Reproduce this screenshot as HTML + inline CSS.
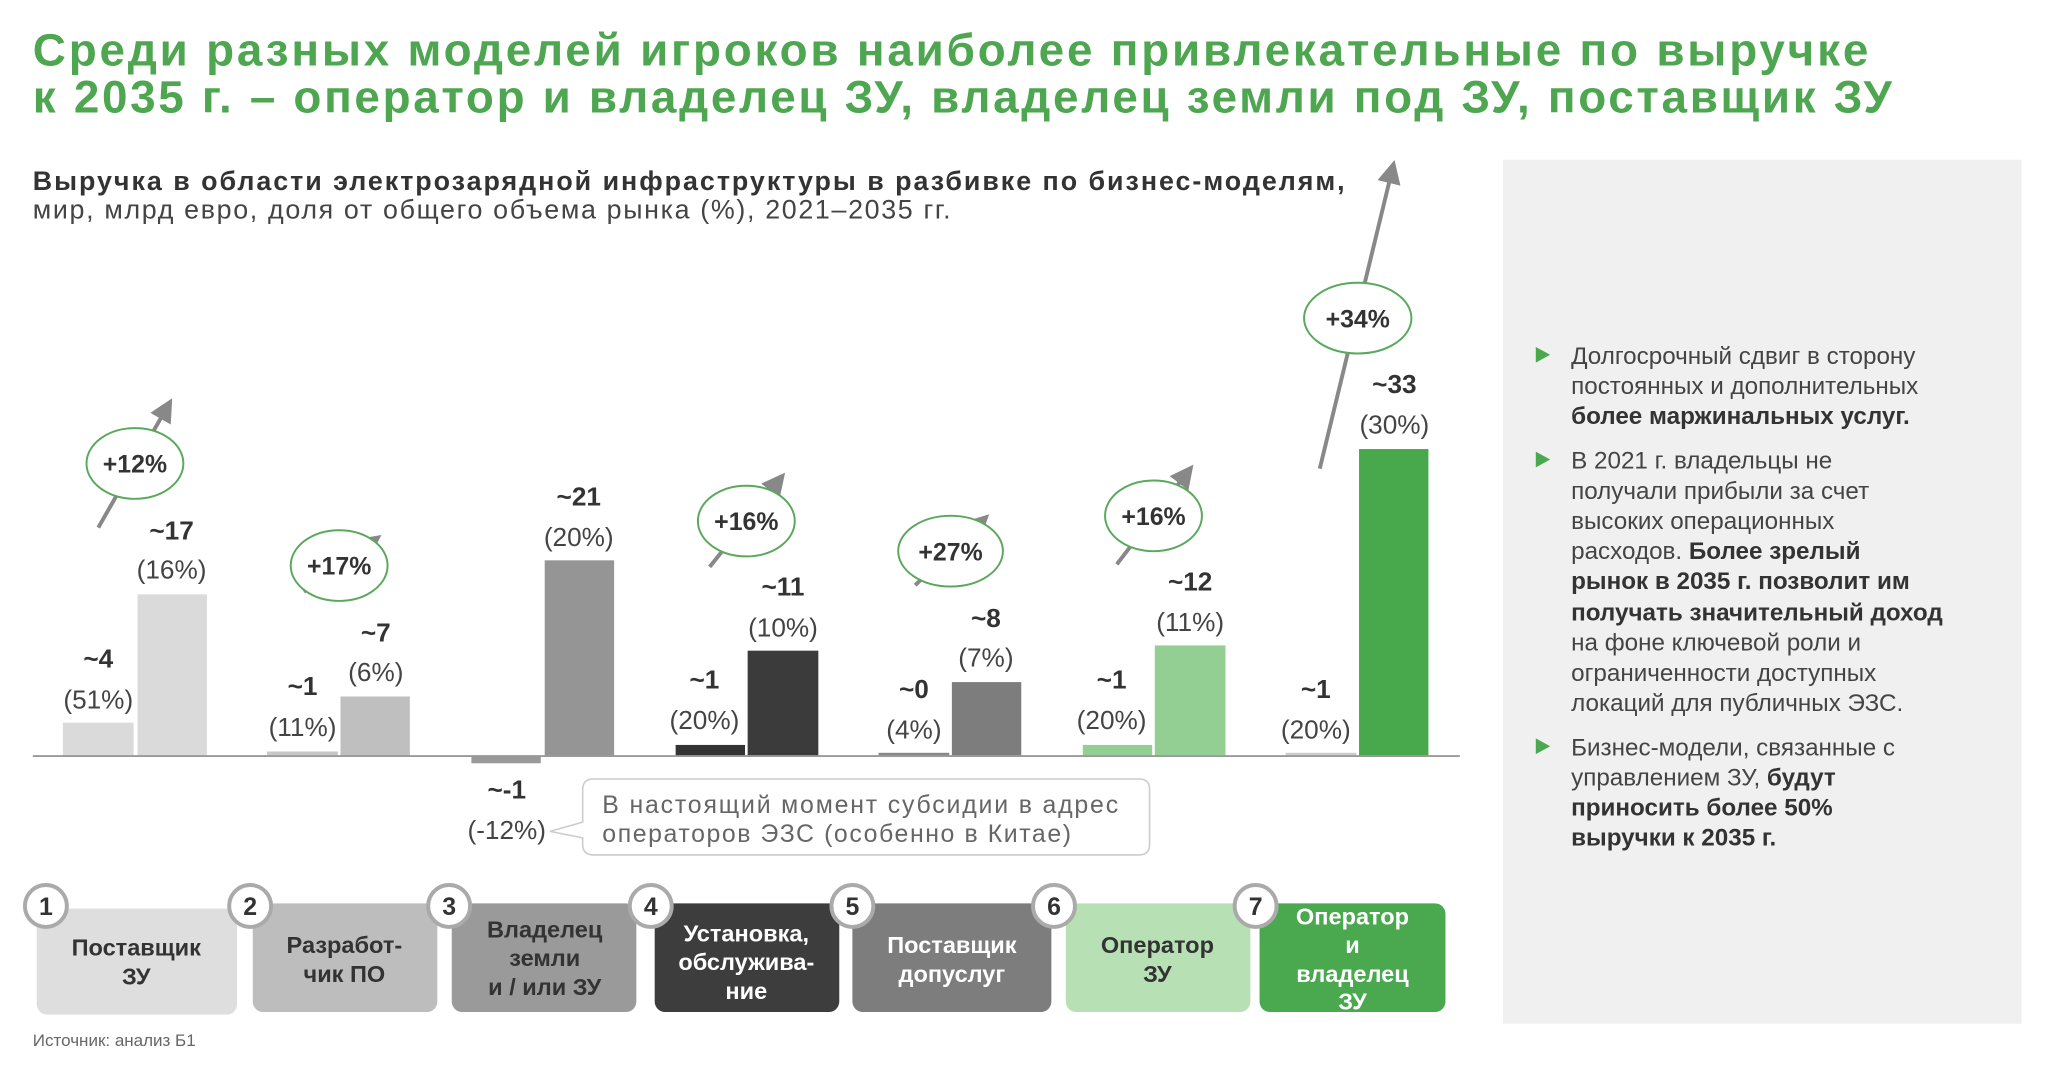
<!DOCTYPE html>
<html><head><meta charset="utf-8"><style>
html,body{margin:0;padding:0;background:#fff;}
svg{display:block;font-family:"Liberation Sans","DejaVu Sans",sans-serif;}
.v{font-weight:bold;font-size:20px;fill:#333;text-anchor:middle}
.p{font-size:20px;fill:#444;text-anchor:middle}
.c{font-weight:bold;font-size:19px;fill:#333;text-anchor:middle}
.b{font-weight:bold;font-size:18px;text-anchor:middle}
.r{font-size:18.5px;fill:#444}
.rb{font-size:18.5px;fill:#333;font-weight:bold}
</style></head><body>
<svg width="2053" height="1067" viewBox="0 0 1568 815">
<defs><marker id="ah" markerWidth="6" markerHeight="6" refX="3" refY="3" orient="auto"><path d="M0,0L6,3L0,6z" fill="#888"/></marker></defs>
<text x="25" y="50" font-size="35" font-weight="bold" fill="#4ea651" textLength="1402">Среди разных моделей игроков наиболее привлекательные по выручке</text>
<text x="25" y="86" font-size="35" font-weight="bold" fill="#4ea651" textLength="1420">к 2035 г. – оператор и владелец ЗУ, владелец земли под ЗУ, поставщик ЗУ</text>
<text x="25" y="145" font-size="20.5" font-weight="bold" fill="#333" textLength="1002">Выручка в области электрозарядной инфраструктуры в разбивке по бизнес-моделям,</text>
<text x="25" y="167" font-size="20.5" fill="#444" textLength="701">мир, млрд евро, доля от общего объема рынка (%), 2021–2035 гг.</text>
<rect x="1148" y="122" width="396" height="660" fill="#f0f0f0"/>
<rect x="48" y="552" width="54" height="25" fill="#dadada"/><rect x="105" y="454" width="53" height="123" fill="#dadada"/>
<rect x="204" y="574" width="54" height="3" fill="#c8c8c8"/><rect x="260" y="532" width="53" height="45" fill="#bfbfbf"/>
<rect x="360" y="577" width="53" height="6" fill="#999"/><rect x="416" y="428" width="53" height="149" fill="#959595"/>
<rect x="516" y="569" width="53" height="8" fill="#333"/><rect x="571" y="497" width="54" height="80" fill="#3b3b3b"/>
<rect x="671" y="575" width="54" height="2" fill="#888"/><rect x="727" y="521" width="53" height="56" fill="#7d7d7d"/>
<rect x="827" y="569" width="53" height="8" fill="#93cf93"/><rect x="882" y="493" width="54" height="84" fill="#93cf93"/>
<rect x="982" y="575" width="54" height="2" fill="#ccc"/><rect x="1038" y="343" width="53" height="234" fill="#47a84c"/>
<line x1="25" y1="577.5" x2="1115" y2="577.5" stroke="#999" stroke-width="1.5"/>
<text class="v" x="75" y="510">~4</text><text class="p" x="75" y="541">(51%)</text>
<text class="v" x="131" y="412">~17</text><text class="p" x="131" y="442">(16%)</text>
<text class="v" x="231" y="531">~1</text><text class="p" x="231" y="562">(11%)</text>
<text class="v" x="287" y="490">~7</text><text class="p" x="287" y="520">(6%)</text>
<text class="v" x="387" y="610">~-1</text><text class="p" x="387" y="641">(-12%)</text>
<text class="v" x="442" y="386">~21</text><text class="p" x="442" y="417">(20%)</text>
<text class="v" x="538" y="526">~1</text><text class="p" x="538" y="557">(20%)</text>
<text class="v" x="598" y="455">~11</text><text class="p" x="598" y="486">(10%)</text>
<text class="v" x="698" y="533">~0</text><text class="p" x="698" y="564">(4%)</text>
<text class="v" x="753" y="479">~8</text><text class="p" x="753" y="509">(7%)</text>
<text class="v" x="849" y="526">~1</text><text class="p" x="849" y="557">(20%)</text>
<text class="v" x="909" y="451">~12</text><text class="p" x="909" y="482">(11%)</text>
<text class="v" x="1005" y="533">~1</text><text class="p" x="1005" y="564">(20%)</text>
<text class="v" x="1065" y="300">~33</text><text class="p" x="1065" y="331">(30%)</text>
<g stroke="#888" stroke-width="3" marker-end="url(#ah)">
<line x1="75" y1="403" x2="127" y2="312"/><line x1="232" y1="452" x2="284" y2="414"/>
<line x1="542" y1="433" x2="594" y2="368"/><line x1="699" y1="447" x2="749" y2="399"/>
<line x1="853" y1="431" x2="906" y2="362"/><line x1="1008" y1="358" x2="1063" y2="131"/>
</g>
<g fill="#fff" stroke="#5aa85c" stroke-width="1.5">
<ellipse cx="103" cy="354" rx="37" ry="27"/><ellipse cx="259" cy="432" rx="37" ry="27"/>
<ellipse cx="570" cy="398" rx="37" ry="27"/><ellipse cx="726" cy="421" rx="40" ry="27"/>
<ellipse cx="881" cy="394" rx="37" ry="27"/><ellipse cx="1037" cy="243" rx="41" ry="27"/>
</g>
<text class="c" x="103" y="361">+12%</text><text class="c" x="259" y="439">+17%</text>
<text class="c" x="570" y="405">+16%</text><text class="c" x="726" y="428">+27%</text>
<text class="c" x="881" y="401">+16%</text><text class="c" x="1037" y="250">+34%</text>
<path d="M453,595 H870 Q878,595 878,603 V645 Q878,653 870,653 H453 Q445,653 445,645 V640 L420,635 L445,628 V603 Q445,595 453,595Z" fill="#fff" stroke="#ccc" stroke-width="1.2"/>
<text x="460" y="621" font-size="19" fill="#666" textLength="394">В настоящий момент субсидии в адрес</text>
<text x="460" y="643" font-size="19" fill="#666" textLength="358">операторов ЭЗС (особенно в Китае)</text>
<rect x="28" y="694" width="153" height="81" rx="8" fill="#dedede"/>
<rect x="193" y="690" width="141" height="83" rx="8" fill="#bdbdbd"/>
<rect x="345" y="690" width="141" height="83" rx="8" fill="#9a9a9a"/>
<rect x="500" y="690" width="141" height="83" rx="8" fill="#3d3d3d"/>
<rect x="651" y="690" width="152" height="83" rx="8" fill="#7d7d7d"/>
<rect x="814" y="690" width="141" height="83" rx="8" fill="#b7e0b5"/>
<rect x="962" y="690" width="142" height="83" rx="8" fill="#4aa84f"/>
<text class="b" x="104" y="730" fill="#333">Поставщик</text><text class="b" x="104" y="752" fill="#333">ЗУ</text>
<text class="b" x="263" y="728" fill="#333">Разработ-</text><text class="b" x="263" y="750" fill="#333">чик ПО</text>
<text class="b" x="416" y="716" fill="#333">Владелец</text><text class="b" x="416" y="738" fill="#333">земли</text><text class="b" x="416" y="760" fill="#333">и / или ЗУ</text>
<text class="b" x="570" y="719" fill="#fff">Установка,</text><text class="b" x="570" y="741" fill="#fff">обслужива-</text><text class="b" x="570" y="763" fill="#fff">ние</text>
<text class="b" x="727" y="728" fill="#fff">Поставщик</text><text class="b" x="727" y="750" fill="#fff">допуслуг</text>
<text class="b" x="884" y="728" fill="#333">Оператор</text><text class="b" x="884" y="750" fill="#333">ЗУ</text>
<text class="b" x="1033" y="706" fill="#fff">Оператор</text><text class="b" x="1033" y="728" fill="#fff">и</text><text class="b" x="1033" y="750" fill="#fff">владелец</text><text class="b" x="1033" y="771" fill="#fff">ЗУ</text>
<g fill="#fff" stroke="#aaa" stroke-width="3">
<circle cx="35" cy="692" r="16"/><circle cx="191" cy="692" r="16"/><circle cx="343" cy="692" r="16"/><circle cx="497" cy="692" r="16"/><circle cx="651" cy="692" r="16"/><circle cx="805" cy="692" r="16"/><circle cx="959" cy="692" r="16"/>
</g>
<g font-size="19" font-weight="bold" fill="#333" text-anchor="middle">
<text x="35" y="699">1</text><text x="191" y="699">2</text><text x="343" y="699">3</text><text x="497" y="699">4</text><text x="651" y="699">5</text><text x="805" y="699">6</text><text x="959" y="699">7</text>
</g>
<text x="25" y="799" font-size="13" fill="#666">Источник: анализ Б1</text>
<g fill="#4aa84f"><path d="M1173,265 l11,6 l-11,6z"/><path d="M1173,345 l11,6 l-11,6z"/><path d="M1173,564 l11,6 l-11,6z"/></g>
<text class="r" x="1200" y="278">Долгосрочный сдвиг в сторону</text>
<text class="r" x="1200" y="301">постоянных и дополнительных</text>
<text class="rb" x="1200" y="324">более маржинальных услуг.</text>
<text class="r" x="1200" y="358">В 2021 г. владельцы не</text>
<text class="r" x="1200" y="381">получали прибыли за счет</text>
<text class="r" x="1200" y="404">высоких операционных</text>
<text x="1200" y="427" font-size="18.5" fill="#444">расходов. <tspan font-weight="bold" fill="#333">Более зрелый</tspan></text>
<text class="rb" x="1200" y="450">рынок в 2035 г. позволит им</text>
<text class="rb" x="1200" y="474">получать значительный доход</text>
<text class="r" x="1200" y="497">на фоне ключевой роли и</text>
<text class="r" x="1200" y="520">ограниченности доступных</text>
<text class="r" x="1200" y="543">локаций для публичных ЭЗС.</text>
<text class="r" x="1200" y="577">Бизнес-модели, связанные с</text>
<text x="1200" y="600" font-size="18.5" fill="#444">управлением ЗУ, <tspan font-weight="bold" fill="#333">будут</tspan></text>
<text class="rb" x="1200" y="623">приносить более 50%</text>
<text class="rb" x="1200" y="646">выручки к 2035 г.</text>
</svg>
</body></html>
